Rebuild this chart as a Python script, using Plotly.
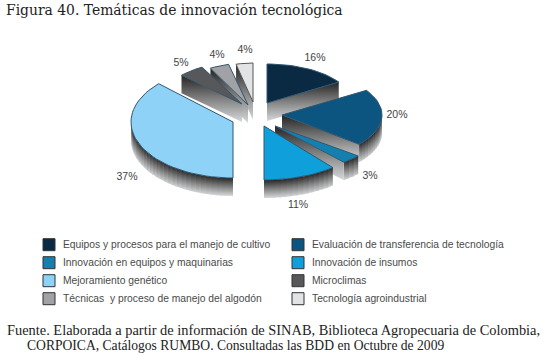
import math
import plotly.graph_objects as go

categories = ["Equipos y procesos para el manejo de cultivo", "Evaluación de transferencia de tecnología",
              "Innovación en equipos y maquinarias", "Innovación de insumos",
              "Mejoramiento genético", "Microclimas",
              "Técnicas  y proceso de manejo del algodón", "Tecnología agroindustrial"]
values = [16, 20, 3, 11, 37, 5, 4, 4]
colors = ["#0a2a44", "#0b5580", "#1480b0", "#0fa0dc", "#8ed2f8", "#58585a", "#a0a2a5", "#e2e3e5"]
label_x = [315, 397, 370, 298, 127, 181, 217, 245]
label_y = [58, 115, 176, 205, 177, 63, 55, 50]
# exploded apex and projected radii of each slice (a perspective look)
apex_x = [267, 282, 275, 264, 233, 242, 248, 253]
apex_y = [103, 115, 126, 126, 122, 104, 105, 102]
rad_x = [85, 100, 108, 108, 102, 83, 78, 68]
rad_y = [39, 46, 47, 54, 56, 42, 42, 39]
depth = 18
draw_order = [7, 6, 5, 0, 1, 2, 3, 4]

fig = go.Figure()


def wall(xs, ys):
    fig.add_trace(go.Scatter(
        x=xs, y=ys, mode="lines", fill="toself", line=dict(width=0),
        fillgradient=dict(type="vertical",
                          colorscale=[[0, "#d6d8da"], [0.5, "#808080"], [1, "#242424"]]),
        hoverinfo="skip", showlegend=False))


total = sum(values)
starts = [sum(values[:i]) / total * 360 for i in range(len(values))]
for i in draw_order:
    a1, a2 = starts[i], starts[i] + values[i] / total * 360
    ax, ay, rx, ry = apex_x[i], apex_y[i], rad_x[i], rad_y[i]

    def pt(a):
        r = math.radians(a)
        return ax + rx * math.sin(r), ay - ry * math.cos(r)

    n = max(2, int((a2 - a1) / 3))
    arc = [a1 + (a2 - a1) * k / n for k in range(n + 1)]
    pts = [pt(a) for a in arc]
    # rim, with a slight overlap so no seam shows
    for k in range(n):
        m = (arc[k] + arc[k + 1]) / 2
        if 90 < m < 270:
            x0, y0 = pts[k]
            x1, y1 = pt(min(arc[k + 1] + 1.0, a2))
            wall([x0, x1, x1, x0, x0], [y0, y1, y1 + depth, y0 + depth, y0])
    # cut faces that look towards the viewer
    if math.sin(math.radians(a1)) < -1e-6:
        x0, y0 = pts[0]
        wall([ax, x0, x0, ax, ax], [ay, y0, y0 + depth, ay + depth, ay])
    if math.sin(math.radians(a2)) > 1e-6:
        x0, y0 = pts[-1]
        wall([ax, x0, x0, ax, ax], [ay, y0, y0 + depth, ay + depth, ay])
    # top face
    fig.add_trace(go.Scatter(
        x=[ax] + [p[0] for p in pts] + [ax], y=[ay] + [p[1] for p in pts] + [ay],
        mode="lines", fill="toself", fillcolor=colors[i],
        line=dict(width=1, color="#33566e" if i != 7 else "#555555"),
        hoverinfo="skip", showlegend=False))

fig.add_trace(go.Scatter(
    x=label_x, y=label_y, mode="text", text=[f"{v}%" for v in values],
    textfont=dict(family="Liberation Sans", size=10.5, color="#444444"),
    hoverinfo="skip", showlegend=False))

# legend drawn in two columns
leg_x, leg_y, leg_c = [], [], []
for n, name in enumerate(categories):
    col, row = n % 2, n // 2
    leg_x.append(49 if col == 0 else 298)
    leg_y.append(244.7 + row * 18)
    leg_c.append(colors[n])
    fig.add_annotation(x=62 if col == 0 else 311, y=244.7 + row * 18, text=name, showarrow=False,
                       xanchor="left", yanchor="middle", xshift=-1,
                       font=dict(family="Liberation Sans", size=10.3, color="#4a4a4a"))
fig.add_trace(go.Scatter(
    x=leg_x, y=leg_y, mode="markers",
    marker=dict(symbol="square", size=12, color=leg_c, line=dict(width=1, color="#333333")),
    hoverinfo="skip", showlegend=False))

fig.add_annotation(x=5, y=9.5, text="Figura 40. Temáticas de innovación tecnológica", showarrow=False,
                   xanchor="left", yanchor="middle", xshift=-1,
                   font=dict(family="DejaVu Serif", size=13.9, color="#222222"))
fig.add_annotation(x=6, y=329.5, text="Fuente. Elaborada a partir de información de SINAB, Biblioteca Agropecuaria de Colombia,",
                   showarrow=False, xanchor="left", yanchor="middle", xshift=-1,
                   font=dict(family="Liberation Serif", size=14.4, color="#222222"))
fig.add_annotation(x=26, y=345, text="CORPOICA, Catálogos RUMBO. Consultadas las BDD en Octubre de 2009",
                   showarrow=False, xanchor="left", yanchor="middle", xshift=-1,
                   font=dict(family="Liberation Serif", size=13.6, color="#222222"))

fig.update_layout(
    width=550, height=353, margin=dict(l=0, r=0, t=0, b=0, pad=0),
    paper_bgcolor="white", plot_bgcolor="white", showlegend=False,
    xaxis=dict(range=[0, 550], visible=False, fixedrange=True),
    yaxis=dict(range=[353, 0], visible=False, fixedrange=True),
)
fig.write_html("out.html", config={"displayModeBar": False},
               post_script="document.body.style.margin='0';document.documentElement.style.overflow='hidden';")
